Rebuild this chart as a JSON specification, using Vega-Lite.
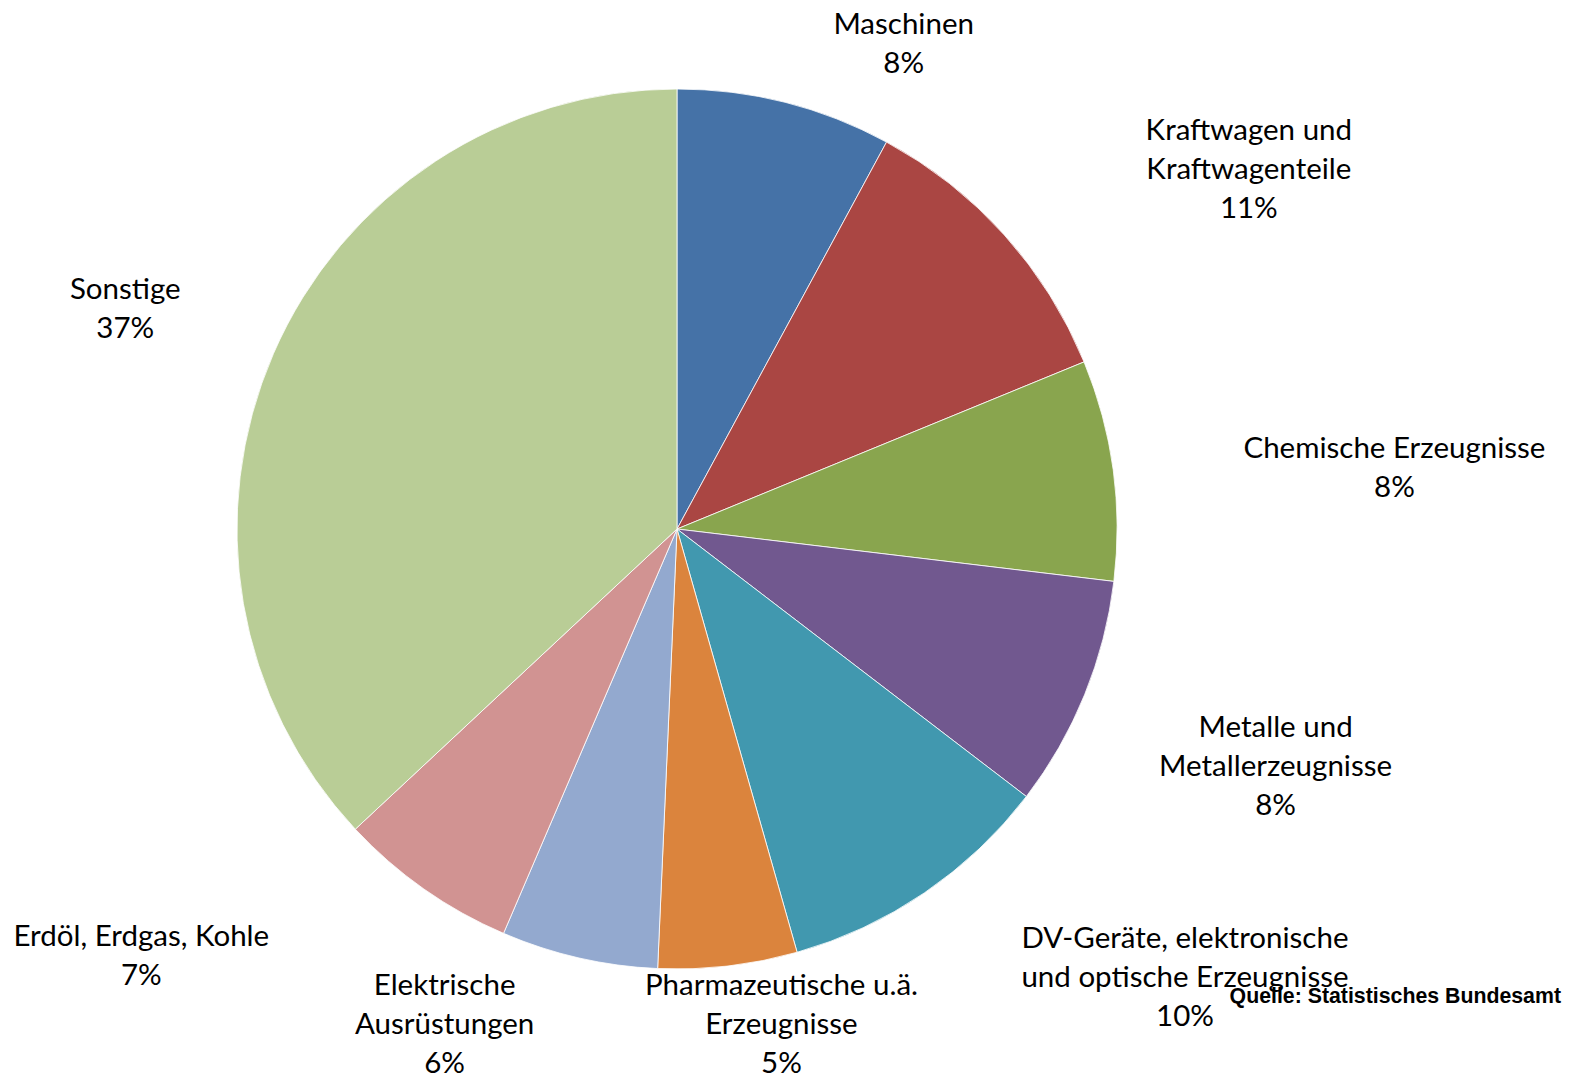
{
  "$schema": "https://vega.github.io/schema/vega-lite/v6.json",
  "width": 1354,
  "height": 1058,
  "autosize": {"type": "none"},
  "padding": {"left": 0, "top": 0, "right": 215, "bottom": 16},
  "background": "white",
  "config": {
    "view": {"stroke": null},
    "text": {"font": "Lato", "fontSize": 29.5, "lineHeight": 39, "lineBreak": "\n", "align": "center", "baseline": "middle", "color": "black"}
  },
  "title": {
    "text": "Quelle: Statistisches Bundesamt",
    "orient": "bottom",
    "anchor": "end",
    "frame": "group",
    "offset": -279,
    "dx": 207,
    "font": "Liberation Sans",
    "fontSize": 21.3,
    "fontWeight": "bold",
    "color": "black",
    "baseline": "middle"
  },
  "data": {
    "values": [
      {"rank": 1, "name": "Maschinen", "value": 7.9, "label": "Maschinen\n8%"},
      {"rank": 2, "name": "Kraftwagen und Kraftwagenteile", "value": 10.9, "label": "Kraftwagen und\nKraftwagenteile\n11%"},
      {"rank": 3, "name": "Chemische Erzeugnisse", "value": 8.1, "label": "Chemische Erzeugnisse\n8%"},
      {"rank": 4, "name": "Metalle und Metallerzeugnisse", "value": 8.5, "label": "Metalle und\nMetallerzeugnisse\n8%"},
      {"rank": 5, "name": "DV-Geräte, elektronische und optische Erzeugnisse", "value": 10.2, "label": "DV-Geräte, elektronische\nund optische Erzeugnisse\n10%"},
      {"rank": 6, "name": "Pharmazeutische u.ä. Erzeugnisse", "value": 5.1, "label": "Pharmazeutische u.ä.\nErzeugnisse\n5%"},
      {"rank": 7, "name": "Elektrische Ausrüstungen", "value": 5.75, "label": "Elektrische\nAusrüstungen\n6%"},
      {"rank": 8, "name": "Erdöl, Erdgas, Kohle", "value": 6.6, "label": "Erdöl, Erdgas, Kohle\n7%"},
      {"rank": 9, "name": "Sonstige", "value": 36.95, "label": "Sonstige\n37%"}
    ]
  },
  "encoding": {
    "theta": {"field": "value", "type": "quantitative", "stack": true},
    "order": {"field": "rank", "type": "quantitative"}
  },
  "layer": [
    {
      "mark": {"type": "arc", "outerRadius": 440, "stroke": "white", "strokeWidth": 0.8},
      "encoding": {
        "color": {
          "field": "name",
          "type": "nominal",
          "legend": null,
          "scale": {
            "domain": ["Maschinen", "Kraftwagen und Kraftwagenteile", "Chemische Erzeugnisse", "Metalle und Metallerzeugnisse", "DV-Geräte, elektronische und optische Erzeugnisse", "Pharmazeutische u.ä. Erzeugnisse", "Elektrische Ausrüstungen", "Erdöl, Erdgas, Kohle", "Sonstige"],
            "range": ["#4572A7", "#AA4643", "#89A54E", "#71588F", "#4198AF", "#DB843D", "#93A9CF", "#D19392", "#B9CD96"]
          }
        }
      }
    },
    {"mark": {"type": "text", "radius": 536, "dx": 95, "dy": 16}, "encoding": {"text": {"condition": {"test": "datum.rank === 1", "field": "label"}, "value": ""}}},
    {"mark": {"type": "text", "radius": 676, "dx": 69, "dy": 54}, "encoding": {"text": {"condition": {"test": "datum.rank === 2", "field": "label"}, "value": ""}}},
    {"mark": {"type": "text", "radius": 720, "dx": 4, "dy": 17}, "encoding": {"text": {"condition": {"test": "datum.rank === 3", "field": "label"}, "value": ""}}},
    {"mark": {"type": "text", "radius": 643, "dx": 3, "dy": -43}, "encoding": {"text": {"condition": {"test": "datum.rank === 4", "field": "label"}, "value": ""}}},
    {"mark": {"type": "text", "radius": 676, "dx": 128, "dy": -149}, "encoding": {"text": {"condition": {"test": "datum.rank === 5", "field": "label"}, "value": ""}}},
    {"mark": {"type": "text", "radius": 504, "dx": 46, "dy": -44}, "encoding": {"text": {"condition": {"test": "datum.rank === 6", "field": "label"}, "value": ""}}},
    {"mark": {"type": "text", "radius": 545, "dx": -111, "dy": -74}, "encoding": {"text": {"condition": {"test": "datum.rank === 7", "field": "label"}, "value": ""}}},
    {"mark": {"type": "text", "radius": 683, "dx": -143, "dy": -151}, "encoding": {"text": {"condition": {"test": "datum.rank === 8", "field": "label"}, "value": ""}}},
    {"mark": {"type": "text", "radius": 595, "dx": -6, "dy": -2}, "encoding": {"text": {"condition": {"test": "datum.rank === 9", "field": "label"}, "value": ""}}}
  ]
}
